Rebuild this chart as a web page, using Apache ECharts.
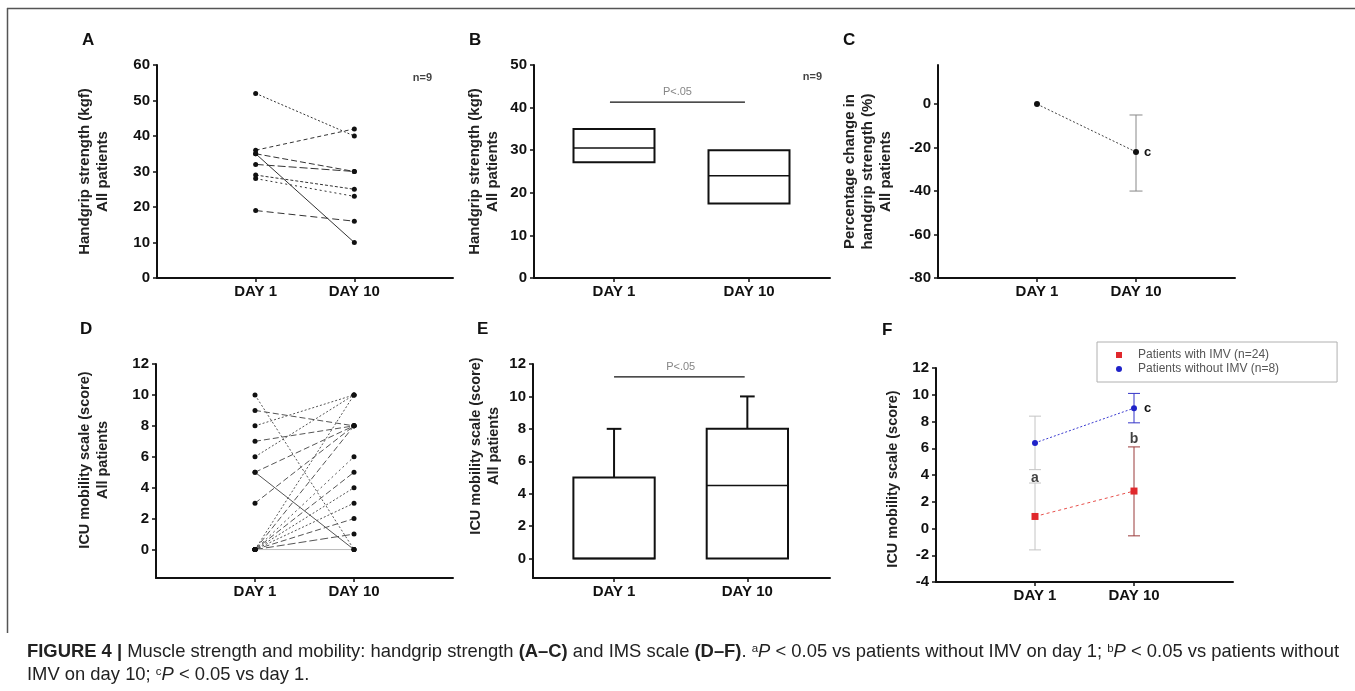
<!DOCTYPE html>
<html>
<head>
<meta charset="utf-8">
<script src="https://cdn.jsdelivr.net/npm/echarts@6/dist/echarts.min.js"></script>
<style>html,body{margin:0;padding:0;background:#fff}#main{width:1355px;height:691px}</style>
</head>
<body>
<div id="main"></div>
<script>
var days = ['DAY 1', 'DAY 10'];
var dayX = [1, 2];

// A: handgrip strength per patient (kgf), day 1 -> day 10
var gripDay1 = [52, 36, 35, 35, 32, 29, 28, 19];
var gripDay10 = [40, 42, 30, 10, 30, 25, 23, 16];
var gripTicks = [0, 10, 20, 30, 40, 50, 60];
// B: boxes [q1, median, q3]
var gripBoxDay1 = [27.2, 30.5, 35];
var gripBoxDay10 = [17.5, 24, 30];
var gripSigY = 41.3;
var gripBoxTicks = [0, 10, 20, 30, 40, 50];
// C: percentage change (mean, error bar on day 10)
var gripChange = [0, -22];
var gripChangeLow = [null, -40];
var gripChangeHigh = [null, -5];
var changeTicks = [-80, -60, -40, -20, 0];
// D: IMS per patient, day 1 -> day 10
var imsDay1 = [10, 9, 8, 7, 6, 5, 5, 3, 0, 0, 0, 0, 0, 0, 0, 0, 0];
var imsDay10 = [0, 8, 10, 8, 10, 8, 0, 8, 10, 8, 6, 5, 4, 3, 2, 1, 0];
var imsTicks = [0, 2, 4, 6, 8, 10, 12];
// E: boxes [q1, median, q3, upper whisker]
var imsBoxDay1 = [0, 0, 5, 8];
var imsBoxDay10 = [0, 4.5, 8, 10];
var imsSigY = 11.2;
// F: group means and error bars
var imvMean = [0.9, 2.8];
var imvLow = [-1.6, -0.55];
var imvHigh = [3.4, 6.1];
var noImvMean = [6.4, 9.0];
var noImvLow = [4.4, 7.9];
var noImvHigh = [8.4, 10.1];
var groupTicks = [-4, -2, 0, 2, 4, 6, 8, 10, 12];

var FONT = '"Liberation Sans", Arial, Helvetica, sans-serif';
var dashA = [[2, 2], [4, 3], [6, 3], 'solid', [8, 3], [3, 2], [2, 3], [7, 4]];
var dashD = [[2, 2], [6, 3], [2, 2], [6, 3], [2, 2], [6, 3], 'solid', [6, 3], [2, 2], [6, 3], [2, 3], [6, 3], [2, 2], [2, 2], [6, 3], [8, 3], 'solid'];

function xAxisOf(g, min, max) {
    return {
        type: 'value', gridIndex: g, min: min, max: max,
        axisLine: {show: true, onZero: false, lineStyle: {color: '#111', width: 2}},
        axisTick: {show: true, customValues: dayX, length: 4, lineStyle: {color: '#111', width: 1.5}},
        axisLabel: {customValues: dayX, margin: 6, fontFamily: FONT, fontSize: 15, fontWeight: 'bold', color: '#111',
            formatter: function (v) { return days[dayX.indexOf(v)] || ''; }},
        splitLine: {show: false}
    };
}
function yAxisOf(g, min, max, ticks, name, gap, size, pad) {
    return {
        type: 'value', gridIndex: g, min: min, max: max,
        name: name, nameLocation: 'middle', nameRotate: 90, nameGap: gap,
        nameTextStyle: {fontFamily: FONT, fontSize: size, fontWeight: 'bold', color: '#222', lineHeight: 18, padding: pad},
        axisLine: {show: true, onZero: false, lineStyle: {color: '#111', width: 2}},
        axisTick: {show: true, customValues: ticks, length: 4, lineStyle: {color: '#111', width: 1.5}},
        axisLabel: {customValues: ticks, margin: 7, fontFamily: FONT, fontSize: 15, fontWeight: 'bold', color: '#111'},
        splitLine: {show: false}
    };
}
function pairLine(g, a, b, dash, color, size) {
    return {
        type: 'line', xAxisIndex: g, yAxisIndex: g, silent: true,
        data: [[dayX[0], a], [dayX[1], b]],
        symbol: 'circle', symbolSize: size,
        itemStyle: {color: '#111'},
        lineStyle: {color: color, width: 1, type: dash}
    };
}
function noteSeries(g, items) {
    return {
        type: 'scatter', xAxisIndex: g, yAxisIndex: g, symbolSize: 0, silent: true, z: 6,
        data: items.map(function (it) {
            return {value: [it[0], it[1]], label: {show: true, position: 'inside', formatter: it[2],
                fontFamily: FONT, fontSize: it[3], fontWeight: it[4], color: it[5]}};
        })
    };
}
function boxRender(widthUnits, capUnits) {
    return function (params, api) {
        var x = api.value(0);
        var top = api.coord([x, api.value(3)]);
        var bot = api.coord([x, api.value(1)]);
        var mid = api.coord([x, api.value(2)]);
        var hi = api.coord([x, api.value(4)]);
        var w = api.size([widthUnits, 0])[0];
        var cw = api.size([capUnits, 0])[0];
        var kids = [];
        if (hi[1] < top[1] - 0.5) {
            kids.push({type: 'line', shape: {x1: top[0], y1: top[1], x2: hi[0], y2: hi[1]}, style: {stroke: '#111', lineWidth: 2}});
            kids.push({type: 'line', shape: {x1: hi[0] - cw / 2, y1: hi[1], x2: hi[0] + cw / 2, y2: hi[1]}, style: {stroke: '#111', lineWidth: 2}});
        }
        kids.push({type: 'rect', shape: {x: top[0] - w / 2, y: top[1], width: w, height: bot[1] - top[1]},
            style: {fill: '#fff', stroke: '#111', lineWidth: 2}});
        kids.push({type: 'line', shape: {x1: mid[0] - w / 2, y1: mid[1], x2: mid[0] + w / 2, y2: mid[1]}, style: {stroke: '#111', lineWidth: 1.5}});
        return {type: 'group', children: kids};
    };
}
function errRender(colors, capPx) {
    return function (params, api) {
        var x = api.value(0);
        var a = api.coord([x, api.value(2)]);
        var b = api.coord([x, api.value(1)]);
        var c = colors[params.dataIndex];
        var h = capPx / 2;
        return {type: 'group', children: [
            {type: 'line', shape: {x1: a[0], y1: a[1], x2: b[0], y2: b[1]}, style: {stroke: c, lineWidth: 1}},
            {type: 'line', shape: {x1: a[0] - h, y1: a[1], x2: a[0] + h, y2: a[1]}, style: {stroke: c, lineWidth: 1}},
            {type: 'line', shape: {x1: b[0] - h, y1: b[1], x2: b[0] + h, y2: b[1]}, style: {stroke: c, lineWidth: 1}}
        ]};
    };
}
function errData(low, high) {
    var out = [];
    for (var i = 0; i < dayX.length; i++) {
        if (low[i] != null) out.push([dayX[i], low[i], high[i]]);
    }
    return out;
}

var series = [];
// A
for (var i = 0; i < gripDay1.length; i++) {
    series.push(pairLine(0, gripDay1[i], gripDay10[i], dashA[i % dashA.length], '#333', 5));
}
series.push(noteSeries(0, [[2.69, 56.3, 'n=9', 11, 'bold', '#111']]));
// B
series.push({
    type: 'custom', xAxisIndex: 1, yAxisIndex: 1, renderItem: boxRender(0.6, 0.11),
    data: [[dayX[0]].concat(gripBoxDay1, [gripBoxDay1[2]]), [dayX[1]].concat(gripBoxDay10, [gripBoxDay10[2]])]
});
series.push({type: 'line', xAxisIndex: 1, yAxisIndex: 1, symbol: 'none', silent: true,
    data: [[0.97, gripSigY], [1.97, gripSigY]], lineStyle: {color: '#111', width: 1.2}});
series.push(noteSeries(1, [[1.47, 43.7, 'P<.05', 11, 'normal', '#666'], [2.47, 47.2, 'n=9', 11, 'bold', '#111']]));
// C
series.push({type: 'custom', xAxisIndex: 2, yAxisIndex: 2, z: 1,
    renderItem: errRender(['#888', '#888'], 13), data: errData(gripChangeLow, gripChangeHigh)});
series.push({
    type: 'line', xAxisIndex: 2, yAxisIndex: 2, silent: true, z: 3,
    data: [[dayX[0], gripChange[0]], {value: [dayX[1], gripChange[1]],
        label: {show: true, position: 'right', distance: 5, formatter: 'c', fontFamily: FONT, fontSize: 13, fontWeight: 'bold', color: '#111'}}],
    symbol: 'circle', symbolSize: 6, itemStyle: {color: '#111'},
    lineStyle: {color: '#444', width: 1, type: [2, 2]}
});
// D
for (var j = 0; j < imsDay1.length; j++) {
    series.push(pairLine(3, imsDay1[j], imsDay10[j], dashD[j % dashD.length], j === imsDay1.length - 1 ? '#bbb' : '#555', 5));
}
// E
series.push({
    type: 'custom', xAxisIndex: 4, yAxisIndex: 4, renderItem: boxRender(0.61, 0.11),
    data: [[dayX[0]].concat(imsBoxDay1), [dayX[1]].concat(imsBoxDay10)]
});
series.push({type: 'line', xAxisIndex: 4, yAxisIndex: 4, symbol: 'none', silent: true,
    data: [[1.0, imsSigY], [1.98, imsSigY]], lineStyle: {color: '#111', width: 1.2}});
series.push(noteSeries(4, [[1.5, 11.8, 'P<.05', 11, 'normal', '#666']]));
// F
series.push({type: 'custom', xAxisIndex: 5, yAxisIndex: 5, z: 1,
    renderItem: errRender(['#c4c4c4', '#9a3a3a'], 12), data: errData(imvLow, imvHigh)});
series.push({type: 'custom', xAxisIndex: 5, yAxisIndex: 5, z: 1,
    renderItem: errRender(['#c4c4c4', '#3535c8'], 12), data: errData(noImvLow, noImvHigh)});
series.push({
    name: 'Patients with IMV (n=24)', type: 'line', xAxisIndex: 5, yAxisIndex: 5, z: 3,
    data: dayX.map(function (x, k) { return [x, imvMean[k]]; }),
    symbol: 'rect', symbolSize: 7, itemStyle: {color: '#e0282c'},
    lineStyle: {color: '#e8504c', width: 1, type: [3, 3]}
});
series.push({
    name: 'Patients without IMV (n=8)', type: 'line', xAxisIndex: 5, yAxisIndex: 5, z: 3,
    data: [[dayX[0], noImvMean[0]], {value: [dayX[1], noImvMean[1]],
        label: {show: true, position: 'right', distance: 7, formatter: 'c', fontFamily: FONT, fontSize: 13, fontWeight: 'bold', color: '#111'}}],
    symbol: 'circle', symbolSize: 6, itemStyle: {color: '#1f22c8'},
    lineStyle: {color: '#3a3ad0', width: 1, type: [2, 2]}
});
series.push(noteSeries(5, [[1, 3.75, 'a', 14, 'bold', '#111'], [2, 6.7, 'b', 14, 'bold', '#111']]));

var grids = [
    {left: 157, top: 65, width: 296, height: 213},
    {left: 534, top: 65, width: 296, height: 213},
    {left: 938, top: 65, width: 297, height: 213},
    {left: 156, top: 364, width: 297, height: 214},
    {left: 533, top: 364, width: 297, height: 214},
    {left: 936, top: 368, width: 297, height: 214}
].map(function (g) { g.outerBoundsMode = 'none'; g.containLabel = false; return g; });

function letter(t, x, y) {
    return {text: t, left: x, top: y, padding: 0,
        textStyle: {fontFamily: FONT, fontSize: 17, fontWeight: 'bold', color: '#111'}};
}

var capRich = {
    b: {fontFamily: FONT, fontSize: 18.4, fontWeight: 'bold', fill: '#222'},
    i: {fontFamily: FONT, fontSize: 18.4, fontStyle: 'italic', fill: '#222'},
    s: {fontFamily: FONT, fontSize: 11.5, fill: '#222', verticalAlign: 'top', lineHeight: 11}
};
var capLine1 = '{b|FIGURE 4 |} Muscle strength and mobility: handgrip strength {b|(A–C)} and IMS scale {b|(D–F)}. {s|a}{i|P} < 0.05 vs patients without IMV on day 1; {s|b}{i|P} < 0.05 vs patients without';
var capLine2 = 'IMV on day 10; {s|c}{i|P} < 0.05 vs day 1.';

var option = {
    backgroundColor: '#fff',
    animation: false,
    title: [letter('A', 82, 32), letter('B', 469, 32), letter('C', 843, 32),
        letter('D', 80, 321), letter('E', 477, 321), letter('F', 882, 322)],
    legend: {
        left: 1097, top: 342, orient: 'vertical',
        data: [{name: 'Patients with IMV (n=24)', icon: 'rect'}, {name: 'Patients without IMV (n=8)', icon: 'circle'}],
        itemWidth: 6, itemHeight: 6, itemGap: 2,
        padding: [7, 58, 7, 19],
        borderColor: '#b0b0b0', borderWidth: 1,
        textStyle: {fontFamily: FONT, fontSize: 12, lineHeight: 12, color: '#555', padding: [0, 0, 0, 11]}
    },
    grid: grids,
    xAxis: [xAxisOf(0, 0, 3), xAxisOf(1, 0.4074, 2.6), xAxisOf(2, 0, 3),
        xAxisOf(3, 0, 3), xAxisOf(4, 0.392, 2.62), xAxisOf(5, 0, 3)],
    yAxis: [
        yAxisOf(0, 0, 60, gripTicks, 'Handgrip strength (kgf)\nAll patients', 45, 15, 0),
        yAxisOf(1, 0, 50, gripBoxTicks, 'Handgrip strength (kgf)\nAll patients', 32, 15, 0),
        yAxisOf(2, -80, 18, changeTicks, 'Percentage change in\nhandgrip strength (%)\nAll patients', 43, 15, 0),
        yAxisOf(3, -1.84, 12, imsTicks, 'ICU mobility scale (score)\nAll patients', 44, 14.5, [0, 0, 0, 22]),
        yAxisOf(4, -1.2, 12, imsTicks, 'ICU mobility scale (score)\nAll patients', 30, 14.5, [0, 0, 0, 50]),
        yAxisOf(5, -4, 12, groupTicks, 'ICU mobility scale (score)', 34, 14.5, [0, 8, 0, 0])
    ],
    series: series,
    graphic: [
        {type: 'line', silent: true, shape: {x1: 7, y1: 8.5, x2: 1355, y2: 8.5}, style: {stroke: '#555', lineWidth: 1.5}},
        {type: 'line', silent: true, shape: {x1: 7.5, y1: 8, x2: 7.5, y2: 633}, style: {stroke: '#555', lineWidth: 1.5}},
        {type: 'text', silent: true, x: 27, y: 643, style: {text: capLine1, fontFamily: FONT, fontSize: 18.4, fill: '#222', rich: capRich}},
        {type: 'text', silent: true, x: 27, y: 666, style: {text: capLine2, fontFamily: FONT, fontSize: 18.4, fill: '#222', rich: capRich}}
    ]
};

var chart = echarts.init(document.getElementById('main'));
chart.setOption(option);
</script>
</body>
</html>
